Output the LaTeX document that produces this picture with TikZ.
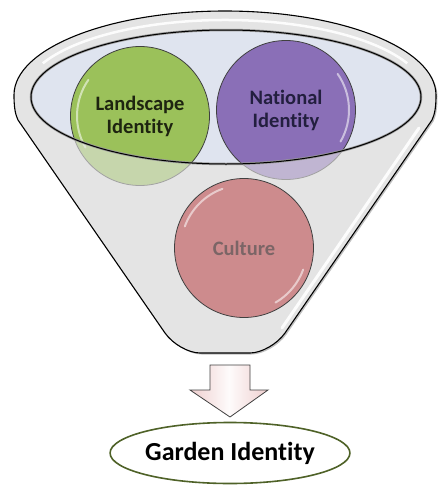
\documentclass[tikz,border=0pt]{standalone}
\usepackage{fontspec}
\setmainfont{Carlito}[RawFeature={-liga;-dlig;-clig}]
\usetikzlibrary{shapes.geometric,calc}
\definecolor{fgray}{HTML}{E4E4E4}
\definecolor{finner}{HTML}{DFE4EF}
\definecolor{cgreen}{HTML}{9BC15A}
\definecolor{cpurple}{HTML}{8A6FB7}
\definecolor{cpink}{HTML}{CD8B8D}
\definecolor{tgreen}{HTML}{1E2410}
\definecolor{tpurple}{HTML}{231F3F}
\definecolor{tpink}{HTML}{7B6566}
\definecolor{gline}{HTML}{4F6228}
\definecolor{apink}{HTML}{EFCFCF}
\tikzset{
  ball/.style={circle, minimum size=139pt, inner sep=0pt, draw=black!75, line width=0.8pt,
    align=center, font=\fontsize{20.5}{23}\selectfont\bfseries},
  glare/.style={white, line width=2pt, opacity=0.55, line cap=round},
}
\def\funnelpath{(14,95) arc[start angle=180,end angle=360,x radius=211,y radius=84]
  .. controls (436,106) and (435,114) .. (432,120) -- (285,333)
  .. controls (277.3,344) and (261.5,353) .. (250,353) -- (200,353)
  .. controls (188.5,353) and (172.7,344) .. (165,333) -- (18,120)
  .. controls (15,114) and (14,106) .. (14,95) -- cycle}
\def\innerpath{(226,97) ellipse[x radius=195,y radius=67]}
\begin{document}
\begin{tikzpicture}[x=1pt,y=-1pt]
\useasboundingbox (0,0) rectangle (437,485);
% funnel body
\fill[black, opacity=0.25, shift={(1.5,1.5)}] \funnelpath;
\fill[fgray] \funnelpath;
\fill[finner] \innerpath;
% back circles
\node[ball, fill=cgreen, text=tgreen] (land) at (140,116) {Landscape\\Identity};
\node[ball, fill=cpurple, text=tpurple] (nat) at (286,110) {National\\Identity};
\draw[glare] (land.center) ++(150:63) arc[start angle=150,end angle=215,radius=63];
\draw[glare] (nat.center) ++(-35:63) arc[start angle=-35,end angle=30,radius=63];
% front face of the funnel fading the lower parts
\fill[fgray, opacity=0.6, even odd rule] \funnelpath \innerpath;
% front circle
\node[ball, fill=cpink, text=tpink] (cult) at (244,248) {Culture};
\draw[glare] (cult.center) ++(200:63) arc[start angle=200,end angle=250,radius=63];
\draw[glare] (cult.center) ++(20:63) arc[start angle=20,end angle=60,radius=63];
% highlights on funnel
\draw[white, line width=3pt, opacity=0.9, line cap=round] (419,128) -- (282,328);
\draw[white, line width=2.5pt, opacity=0.9] (225,95) ++(205:201 and 75) arc[start angle=205,end angle=335,x radius=201,y radius=75];
% outlines
\draw[black!40, line width=2.5pt] \innerpath;
\draw[black, line width=1pt] \innerpath;
\draw[black, line width=1.1pt] \funnelpath;
% arrow
\coordinate (atop) at (230,365);
\coordinate (atip) at (230,417);
\shade[left color=apink, right color=apink, middle color=white!92!apink, draw=black!75, line width=0.8pt]
  ($(atop)+(-20,0)$) -- ($(atop)+(20,0)$) -- (250,390) -- (268,390) -- (atip) -- (190,390) -- (210,390) -- cycle;
% result
\node[ellipse, draw=gline, line width=1.6pt, fill=white, minimum width=230pt, minimum height=61pt,
  inner sep=0pt, font=\fontsize{26}{30}\selectfont\bfseries] (garden) at (230,453) {Garden Identity};
\end{tikzpicture}
\end{document}
